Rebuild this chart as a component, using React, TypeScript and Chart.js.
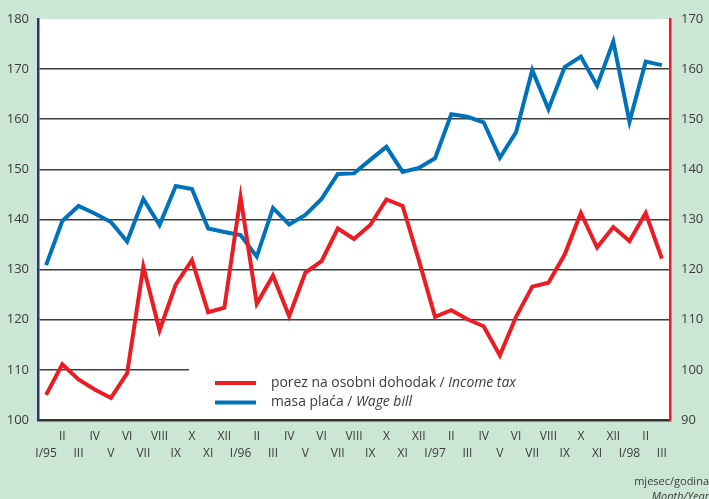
import React, { useEffect, useRef } from 'react';
import { Chart, registerables } from 'chart.js';

Chart.register(...registerables);

const romanMonths: string[] = ['I', 'II', 'III', 'IV', 'V', 'VI', 'VII', 'VIII', 'IX', 'X', 'XI', 'XII'];
const years: string[] = ['95', '96', '97', '98'];
const monthLabels: string[] = [];
years.forEach((y, yi) => {
  romanMonths.forEach((m, mi) => {
    if (yi === 3 && mi > 2) return;
    monthLabels.push(mi === 0 ? `I/${y}` : m);
  });
});

// masa plaća / Wage bill (left axis)
const wageBill: number[] = [
  130.9, 139.7, 142.7, 141.2, 139.5, 135.6, 144.1, 138.9, 146.7, 146.1, 138.2, 137.5,
  136.9, 132.6, 142.3, 139.0, 140.9, 144.1, 149.1, 149.2, 151.9, 154.5, 149.5, 150.3,
  152.2, 161.0, 160.5, 159.4, 152.3, 157.4, 169.8, 162.0, 170.4, 172.5, 166.7, 175.5,
  159.5, 171.5, 170.8,
];

// porez na osobni dohodak / Income tax (right axis)
const incomeTax: number[] = [
  95.0, 101.1, 98.1, 96.1, 94.4, 99.3, 120.6, 107.9, 117.0, 121.9, 111.5, 112.4,
  134.5, 113.2, 118.8, 110.7, 119.4, 121.7, 128.2, 126.1, 128.9, 134.0, 132.7, 121.9,
  110.6, 111.9, 110.1, 108.7, 102.9, 110.6, 116.6, 117.4, 123.0, 131.3, 124.4, 128.5,
  125.7, 131.3, 122.2,
];

const legendIncome: [string, string] = ['porez na osobni dohodak / ', 'Income tax'];
const legendWage: [string, string] = ['masa plaća / ', 'Wage bill'];
const axisCaption: [string, string] = ['mjesec/godina', 'Month/Year'];

const GREEN = 'rgb(204,230,214)';
const BLUE = 'rgb(0,114,188)';
const RED = 'rgb(236,28,36)';
const NAVY = 'rgb(46,49,146)';
const GRID = '#3d3d3d';
const TEXT = '#3a3a3a';
const FONT = '"Open Sans", sans-serif';

const decorPlugin = {
  id: 'decor',
  beforeDraw(chart: any) {
    const { ctx, chartArea: a } = chart;
    ctx.save();
    ctx.fillStyle = GREEN;
    ctx.fillRect(0, 0, chart.width, chart.height);
    ctx.fillStyle = '#ffffff';
    ctx.fillRect(a.left, a.top, a.right - a.left, a.bottom - a.top);
    ctx.restore();
  },
  beforeDatasetsDraw(chart: any) {
    const { ctx, chartArea: a } = chart;
    ctx.save();
    ctx.fillStyle = '#ffffff';
    ctx.fillRect(189, 362, a.right - 189 - 1, a.bottom - 362 - 2);
    ctx.restore();
  },
  afterDraw(chart: any) {
    const { ctx } = chart;
    ctx.save();
    const items: [string, [string, string], number][] = [
      [RED, legendIncome, 383],
      [BLUE, legendWage, 402.5],
    ];
    items.forEach(([color, txt, y]) => {
      ctx.strokeStyle = color;
      ctx.lineWidth = 4;
      ctx.beginPath();
      ctx.moveTo(215, y);
      ctx.lineTo(256, y);
      ctx.stroke();
      ctx.fillStyle = TEXT;
      ctx.textBaseline = 'middle';
      ctx.textAlign = 'left';
      ctx.font = `13.9px ${FONT}`;
      ctx.fillText(txt[0], 271, y);
      const w = ctx.measureText(txt[0]).width;
      ctx.font = `italic 13.9px ${FONT}`;
      ctx.fillText(txt[1], 271 + w, y);
    });
    ctx.textAlign = 'right';
    ctx.font = `11px ${FONT}`;
    ctx.fillText(axisCaption[0], 709, 482);
    ctx.font = `italic 11px ${FONT}`;
    ctx.fillText(axisCaption[1], 709, 497);
    ctx.restore();
  },
};

export default function App() {
  const ref = useRef<HTMLCanvasElement | null>(null);

  useEffect(() => {
    if (!ref.current) return;
    const chart = new Chart(ref.current, {
      type: 'line',
      data: {
        labels: monthLabels,
        datasets: [
          {
            label: 'porez na osobni dohodak / Income tax',
            data: incomeTax,
            yAxisID: 'y1',
            borderColor: RED,
            borderWidth: 4,
            pointRadius: 0,
            tension: 0,
            fill: false,
          },
          {
            label: 'masa plaća / Wage bill',
            data: wageBill,
            yAxisID: 'y',
            borderColor: BLUE,
            borderWidth: 4,
            pointRadius: 0,
            tension: 0,
            fill: false,
          },
        ],
      },
      options: {
        animation: false,
        responsive: false,
        layout: { padding: { top: 19, left: 0, right: 0, bottom: 0 } },
        plugins: {
          legend: { display: false },
          tooltip: { enabled: false },
        },
        scales: {
          x: {
            type: 'category',
            offset: true,
            grid: { display: false, drawTicks: false },
            border: { display: true, color: '#333333', width: 2.5 },
            ticks: {
              autoSkip: false,
              maxRotation: 0,
              minRotation: 0,
              padding: 8.7,
              color: TEXT,
              font: { family: FONT, size: 12, lineHeight: 1.38 },
              callback: (_v: any, i: number) => (i % 2 === 0 ? ['', monthLabels[i]] : [monthLabels[i]]),
            },
            afterFit: (s: any) => {
              s.height = 79;
            },
          },
          y: {
            position: 'left',
            min: 100,
            max: 180,
            grid: {
              drawTicks: false,
              color: (c: any) => (c.tick && c.tick.value === 180 ? 'rgba(0,0,0,0)' : GRID),
              lineWidth: 1.6,
            },
            border: { display: true, color: NAVY, width: 2.5 },
            ticks: {
              stepSize: 10,
              padding: 9,
              color: TEXT,
              font: { family: FONT, size: 13 },
            },
            afterFit: (s: any) => {
              s.width = 38;
            },
          },
          y1: {
            position: 'right',
            min: 90,
            max: 170,
            grid: { display: false, drawTicks: false },
            border: { display: true, color: RED, width: 2.5 },
            ticks: {
              stepSize: 10,
              padding: 11,
              color: TEXT,
              font: { family: FONT, size: 13 },
            },
            afterFit: (s: any) => {
              s.width = 39;
            },
          },
        },
      },
      plugins: [decorPlugin],
    } as any);
    return () => chart.destroy();
  }, []);

  return (
    <div style={{ position: 'fixed', left: 0, top: 0, width: 709, height: 499, background: GREEN }}>
      <canvas ref={ref} width={709} height={499} style={{ display: 'block' }} />
    </div>
  );
}
